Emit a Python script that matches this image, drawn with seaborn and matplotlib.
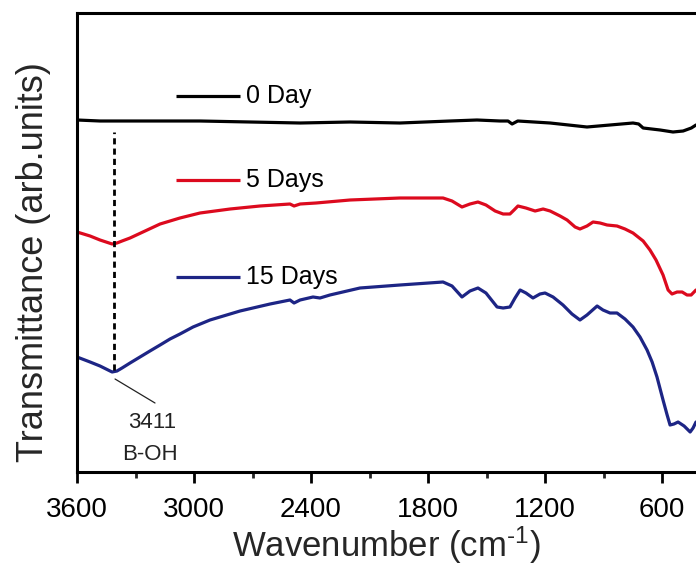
import numpy as np
import pandas as pd
import matplotlib
matplotlib.use("Agg")
import matplotlib.pyplot as plt
import seaborn as sns

# ---- data (wavenumber in cm-1, transmittance in arbitrary units, offset curves) ----
wn_0 = [3600, 3482, 3226, 2969, 2713, 2456, 2200, 1944, 1687, 1549, 1431, 1390, 1369,
        1340, 1174, 985, 867, 749, 720, 697, 610, 544, 492, 450, 426]
t_0 = [352, 351, 351, 351, 350, 349, 350, 349, 351, 352, 351, 351, 348,
       351, 349, 345, 347, 349, 348, 344, 342, 340, 341, 344, 347]

wn_5 = [3600, 3533, 3482, 3420, 3395, 3369, 3328, 3251, 3174, 3072, 2969, 2815, 2662,
        2508, 2487, 2456, 2374, 2200, 1944,
        1723, 1677, 1626, 1585, 1544, 1503, 1456, 1415, 1380, 1359, 1339, 1298, 1251,
        1210, 1174, 1123, 1087, 1046, 1021, 985, 954, 918, 882, 831, 790, 749, 697,
        662, 631, 595, 569, 549, 523, 497, 472, 451, 426]
t_5 = [240, 236, 232, 228, 229, 231, 234, 241, 248, 254, 259, 263, 266,
       268, 266, 268, 269, 272, 274,
       274, 271, 265, 268, 270, 267, 261, 258, 258, 262, 266, 264, 261,
       263, 261, 256, 252, 245, 243, 246, 250, 249, 247, 246, 243, 239, 231,
       222, 212, 197, 182, 178, 180, 180, 177, 177, 182]

wn_15 = [3600, 3533, 3482, 3420, 3395, 3369, 3328, 3277, 3226, 3174, 3123, 3072, 3005,
         2918, 2764, 2610, 2508, 2487, 2456, 2390, 2354, 2303, 2149, 1944,
         1723, 1677, 1626, 1585, 1544, 1503, 1446, 1415, 1380, 1354, 1328, 1298, 1262,
         1226, 1200, 1159, 1108, 1062, 1021, 985, 933, 903, 867, 831, 790, 749, 713,
         677, 651, 626, 595, 574, 559, 539, 518, 487, 456, 441, 426]
t_15 = [115, 110, 106, 100, 101, 104, 109, 115, 121, 127, 133, 138, 145,
        152, 161, 168, 172, 169, 172, 175, 174, 177, 184, 187,
        190, 186, 175, 181, 184, 179, 165, 164, 165, 174, 182, 179, 174,
        178, 179, 175, 167, 158, 152, 157, 166, 162, 159, 159, 153, 145, 135,
        122, 110, 95, 72, 57, 47, 48, 50, 46, 40, 44, 50]

series_labels = ["0 Day", "5 Days", "15 Days"]
series_colors = ["#000000", "#dc0a1e", "#1d2585"]
x_ticks = [3600, 3000, 2400, 1800, 1200, 600]
peak_wn = 3411
peak_text = ["3411", "B-OH"]

frames = []
for lab, w, t in zip(series_labels, [wn_0, wn_5, wn_15], [t_0, t_5, t_15]):
    frames.append(pd.DataFrame({"wn": w, "t": t, "sample": lab}))
df = pd.concat(frames, ignore_index=True)

# ---- style ----
sns.set_style("ticks")
plt.rcParams["font.family"] = ["Liberation Sans", "DejaVu Sans"]
plt.rcParams["mathtext.fontset"] = "custom"
plt.rcParams["mathtext.rm"] = "Liberation Sans"
plt.rcParams["mathtext.it"] = "Liberation Sans"

fig = plt.figure(figsize=(6.96, 5.66), dpi=100)
ax = fig.add_axes([77 / 696, (566 - 472) / 566, (696 - 77) / 696, (472 - 13) / 566])

sns.lineplot(data=df, x="wn", y="t", hue="sample", palette=series_colors,
             hue_order=series_labels, sort=False, estimator=None,
             linewidth=2.3, legend=False, ax=ax)
for ln in ax.lines:
    ln.set_solid_joinstyle("round")
    ln.set_solid_capstyle("round")

ax.set_xlim(3600, 426)
ax.set_ylim(0, 459)

# dashed marker line at the B-OH band
ax.vlines(peak_wn, 102, 340, colors="black", linestyles=(0, (2.2, 1.5)), linewidth=2.0)
ax.plot([3405, 3200], [93, 69], color="#222222", lw=0.9)
ax.text(3215, 49, peak_text[0], ha="center", va="center", fontsize=16, color="#222222")
ax.text(3226, 17, peak_text[1], ha="center", va="center", fontsize=16, color="#222222")

# labelled line samples (legend-like)
leg_pos = [(96, series_labels[0]), (180, series_labels[1]), (277, series_labels[2])]
for (py, lab), col in zip(leg_pos, series_colors):
    yf = (472 - py) / 459
    ax.plot([(176 - 77) / 619, (240 - 77) / 619], [yf, yf], transform=ax.transAxes,
            color=col, linewidth=2.3, solid_capstyle="butt")
    ax.text((246 - 77) / 619, yf, lab, transform=ax.transAxes, fontsize=18,
            va="center", ha="left", color="black")

# axes styling
ax.set_xticks(x_ticks)
ax.set_xticklabels([str(v) for v in x_ticks])
ax.xaxis.set_minor_locator(matplotlib.ticker.MultipleLocator(300))
ax.tick_params(axis="x", which="major", direction="out", length=8, width=2,
               labelsize=20, pad=10, colors="black")
ax.tick_params(axis="x", which="minor", direction="out", length=4, width=2)
ax.set_yticks([])
for side in ["left", "bottom", "top"]:
    ax.spines[side].set_linewidth(2.2)
    ax.spines[side].set_color("black")
ax.spines["right"].set_visible(False)

ax.set_xlabel("Wavenumber (cm$^{\u2010\\mathregular{1}}$)", fontsize=25, labelpad=1)
ax.set_ylabel("Transmittance (arb.units)", fontsize=26)
ax.yaxis.set_label_coords(-0.042, 0.457)

fig.savefig("out.png", dpi=100)
